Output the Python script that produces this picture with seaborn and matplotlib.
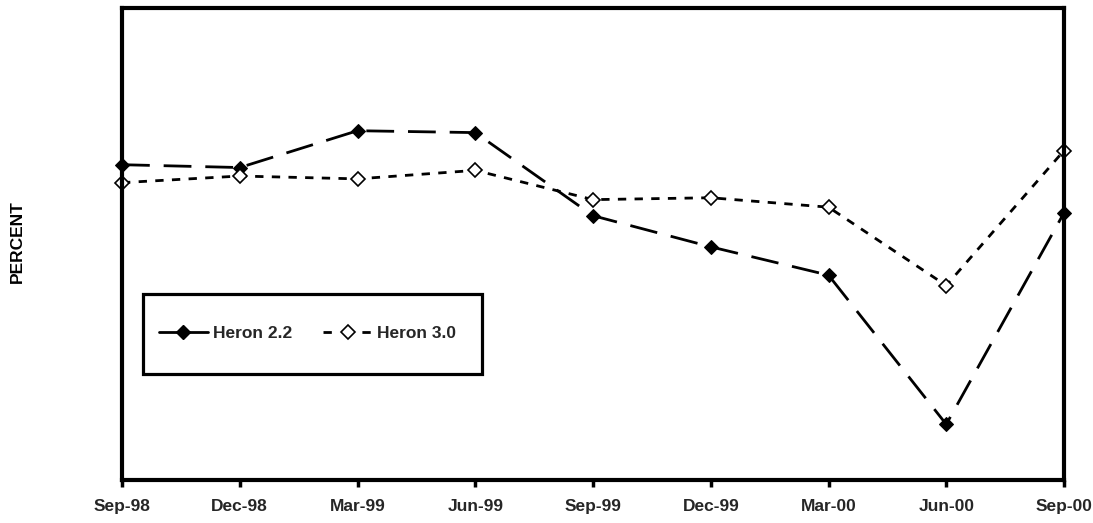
import matplotlib
matplotlib.use("Agg")
import matplotlib.pyplot as plt
from matplotlib.lines import Line2D
from matplotlib.patches import Rectangle
import seaborn as sns
import pandas as pd

quarters = ["Sep-98", "Dec-98", "Mar-99", "Jun-99", "Sep-99",
            "Dec-99", "Mar-00", "Jun-00", "Sep-00"]
heron_22 = [33.4, 33.1, 37.0, 36.8, 28.0, 24.7, 21.7, 5.9, 28.3]
heron_30 = [31.5, 32.2, 31.9, 32.8, 29.7, 29.9, 28.9, 20.6, 34.9]

sns.set_theme(style="white")
plt.rcParams["font.family"] = ["Liberation Sans", "DejaVu Sans"]

df = pd.DataFrame({
    "pos": list(range(len(quarters))) * 2,
    "value": heron_22 + heron_30,
    "series": ["Heron 2.2"] * len(quarters) + ["Heron 3.0"] * len(quarters),
})

W, H = 1093, 523
fig = plt.figure(figsize=(W / 100, H / 100), dpi=100)
ax = fig.add_axes([122 / W, 43 / H, 942 / W, 472 / H])

d22 = df[df.series == "Heron 2.2"]
d30 = df[df.series == "Heron 3.0"]
sns.lineplot(data=d22, x="pos", y="value", ax=ax, color="black", lw=2,
             marker="D", markersize=7, markerfacecolor="black",
             markeredgecolor="black", legend=False, clip_on=False)
ax.lines[-1].set_dashes([10, 5])
sns.lineplot(data=d30, x="pos", y="value", ax=ax, color="black", lw=2,
             marker="D", markersize=7, markerfacecolor="white",
             markeredgecolor="black", markeredgewidth=1.2,
             legend=False, clip_on=False)
ax.lines[-1].set_dashes([3, 3])

ax.set_xlim(0, len(quarters) - 1)
ax.set_ylim(0, 50)
ax.set_xticks(range(len(quarters)))
ax.set_xticklabels(quarters, fontsize=12.5, fontweight="bold")
ax.set_yticks([])
ax.set_xlabel("")
ax.set_ylabel("")
fig.text(17 / W, 1 - 242 / H, "PERCENT", rotation=90, fontsize=12.5,
         fontweight="bold", ha="center", va="center", color="black")

for s in ax.spines.values():
    s.set_visible(True)
    s.set_color("black")
    s.set_linewidth(3)
ax.tick_params(axis="x", direction="out", length=5, width=2.5,
               color="black", pad=9, bottom=True)

# legend box drawn as its own rectangle, entries placed inside it
ax.add_patch(Rectangle(((143 - 122) / 942, (480 - 374) / 472),
                       (482 - 143) / 942, 80 / 472,
                       transform=ax.transAxes, facecolor="white",
                       edgecolor="black", linewidth=2.3, zorder=4.5))
handles = [
    Line2D([0], [0], color="black", lw=2, marker="D", markersize=7,
           markerfacecolor="black", markeredgecolor="black"),
    Line2D([0], [0], color="black", lw=2, dashes=[3, 4], marker="D",
           markersize=7, markerfacecolor="white", markeredgecolor="black",
           markeredgewidth=1.2),
]
leg = ax.legend(handles, ["Heron 2.2", "Heron 3.0"], ncol=2,
                loc="center left",
                bbox_to_anchor=((159 - 122) / 942, (480 - 333) / 472),
                borderaxespad=0, borderpad=0, frameon=False,
                prop={"weight": "bold", "size": 12.5},
                handlelength=2.8, handletextpad=0.3, columnspacing=1.8)
leg.set_zorder(5)

fig.savefig("out.png", dpi=100)
